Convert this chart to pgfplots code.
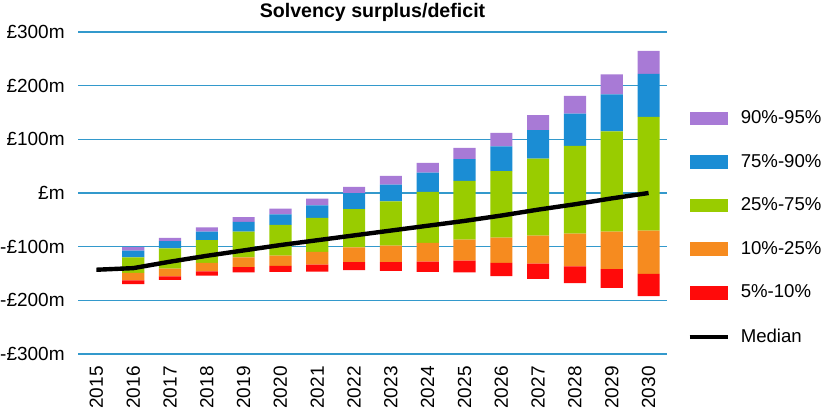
\documentclass[border=0pt]{standalone}
\usepackage{fontspec}
\setmainfont{Liberation Sans}
\usepackage{pgfplots}
\usepackage{pgfplotstable}
\pgfplotsset{compat=1.18}
\definecolor{cpurp}{HTML}{A87AD6}
\definecolor{cblue}{HTML}{1B8DD4}
\definecolor{cgreen}{HTML}{99CC00}
\definecolor{corange}{HTML}{F68B1F}
\definecolor{cred}{HTML}{FF0A0A}
\definecolor{cgrid}{HTML}{3399CC}

\pgfplotstableread{
year p5 p10 p25 p75 p90 p95
2016 -170 -163 -149 -120 -107.5 -101
2017 -162 -155.5 -141 -103 -89.5 -83.5
2018 -154 -146 -130 -88 -72 -64
2019 -148 -138 -120 -72 -54 -45
2020 -147 -136 -116.5 -59.5 -40 -29
2021 -146.5 -133.5 -109.5 -46.5 -23 -10.5
2022 -143.5 -129 -101.5 -30 0 11.5
2023 -145 -129 -98 -15.5 15.5 32
2024 -147 -128 -93 2 38 56
2025 -148 -126 -87 22.5 63 84
2026 -155 -130 -83 41 87 112
2027 -160 -131.5 -79.5 64 117 145
2028 -168 -136.5 -75.5 88 148 181
2029 -177 -142 -72 115 184 221
2030 -192 -150.5 -70 142 222 265
}\bands

\pgfplotstableread{
year median
2015 -143
2016 -140
2017 -128
2018 -117
2019 -107
2020 -97
2021 -88
2022 -79
2023 -70
2024 -61
2025 -52
2026 -42
2027 -31
2028 -21
2029 -10
2030 0
}\med

\begin{document}
\fontsize{9.5pt}{11pt}\selectfont
\begin{tikzpicture}
\useasboundingbox (0,0) rectangle (413pt,204pt);
\pgfplotsset{
  common/.style={
    at={(39pt,27pt)}, anchor=south west,
    scale only axis, width=294.5pt, height=161pt,
    xmin=2014.5, xmax=2030.5, ymin=-300, ymax=300,
  }
}
\begin{axis}[common,
  ybar stacked, stack negative=on previous, bar width=0.6,
  axis line style={draw=none},
  major tick length=0pt,
  ytick={-300,-200,...,300},
  yticklabels={-£300m,-£200m,-£100m,£m,£100m,£200m,£300m},
  xtick={2015,...,2030},
  xticklabels={2015,2016,2017,2018,2019,2020,2021,2022,2023,2024,2025,2026,2027,2028,2029,2030},
  ymajorgrids, grid style={cgrid, line width=0.75pt},
  yticklabel style={font=\fontsize{9.5pt}{11pt}\selectfont, inner sep=0pt, anchor=east},
  yticklabel shift=6.5pt,
  xticklabel style={font=\fontsize{9.5pt}{11pt}\selectfont, rotate=90, anchor=east, inner sep=0pt},
  xticklabel shift=6pt,
]
\addplot[draw=none, fill=none] table[x=year, y=p5] {\bands};
\addplot[draw=none, fill=cred] table[x=year, y expr=\thisrow{p10}-\thisrow{p5}] {\bands};
\addplot[draw=none, fill=corange] table[x=year, y expr=\thisrow{p25}-\thisrow{p10}] {\bands};
\addplot[draw=none, fill=cgreen] table[x=year, y expr=\thisrow{p75}-\thisrow{p25}] {\bands};
\addplot[draw=none, fill=cblue] table[x=year, y expr=\thisrow{p90}-\thisrow{p75}] {\bands};
\addplot[draw=none, fill=cpurp] table[x=year, y expr=\thisrow{p95}-\thisrow{p90}] {\bands};
\end{axis}
\begin{axis}[common, hide axis,
  legend style={at={(304.5pt,122pt)}, anchor=north west, draw=none, fill=none,
    inner sep=0pt, row sep=13.9pt, column sep=5.5pt,
    font=\fontsize{9.3pt}{11pt}\selectfont,
    nodes={inner sep=0pt, anchor=west}},
  legend cell align=left,
]
\pgfplotsset{
  barleg/.style={legend image code/.code={\fill[##1] (0pt,-3.4pt) rectangle (19pt,3.4pt);}},
  lineleg/.style={legend image code/.code={\draw[##1] (0pt,0pt) -- (19pt,0pt);}},
}
\addlegendimage{barleg, fill=cpurp, draw=none}
\addlegendentry{90\%-95\%}
\addlegendimage{barleg, fill=cblue, draw=none}
\addlegendentry{75\%-90\%}
\addlegendimage{barleg, fill=cgreen, draw=none}
\addlegendentry{25\%-75\%}
\addlegendimage{barleg, fill=corange, draw=none}
\addlegendentry{10\%-25\%}
\addlegendimage{barleg, fill=cred, draw=none}
\addlegendentry{5\%-10\%}
\addplot[black, line width=2.2pt, lineleg] table[x=year, y=median] {\med};
\addlegendentry{Median}
\end{axis}
\node[font=\fontsize{9.8pt}{12pt}\selectfont\bfseries, anchor=base] at (186.25pt,195.3pt) {Solvency surplus/deficit};
\end{tikzpicture}
\end{document}
